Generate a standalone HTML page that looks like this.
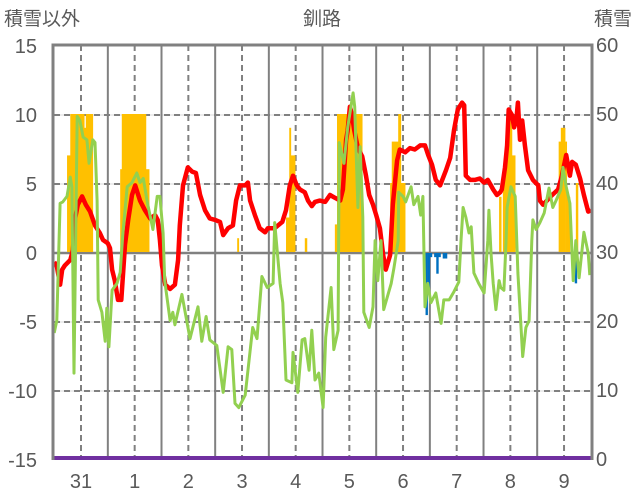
<!DOCTYPE html>
<html><head><meta charset="utf-8"><style>
html,body{margin:0;padding:0;background:#fff;}
svg{display:block;font-family:"Liberation Sans","Noto Sans CJK JP",sans-serif;}
</style></head><body>
<svg id="chart" width="636" height="501" viewBox="0 0 636 501" xmlns="http://www.w3.org/2000/svg">
<text x="322" y="25" text-anchor="middle" font-size="19" fill="#595959">釧路</text>
<text x="4" y="25" font-size="19" fill="#595959">積雪以外</text>
<text x="632" y="25" text-anchor="end" font-size="19" fill="#595959">積雪</text>
<g id="grid"></g>
<g id="bars"></g>
<g id="lines"></g>
<g id="axes"></g>
</svg>
<script>
const dayTicks=[0,1,2,3,4,5,6,7,8,9];
const dayLabels=["31","1","2","3","4","5","6","7","8","9"];
const leftTicks=[15,10,5,0,-5,-10,-15];
const rightTicks=[60,50,40,30,20,10,0];
const redT=[-0.50,-0.45,-0.39,-0.35,-0.30,-0.20,-0.15,-0.11,-0.06,0.02,0.09,0.17,0.26,0.35,0.41,0.50,0.54,0.58,0.63,0.69,0.75,0.82,0.88,0.95,1.01,1.10,1.19,1.29,1.38,1.43,1.47,1.51,1.57,1.66,1.75,1.81,1.84,1.90,1.99,2.07,2.14,2.22,2.31,2.40,2.50,2.59,2.65,2.74,2.83,2.89,2.96,3.06,3.11,3.15,3.24,3.33,3.43,3.48,3.61,3.75,3.82,3.89,3.95,4.02,4.08,4.17,4.23,4.30,4.36,4.45,4.55,4.64,4.73,4.83,4.88,4.94,4.97,5.01,5.05,5.09,5.16,5.24,5.31,5.37,5.44,5.50,5.57,5.63,5.68,5.76,5.81,5.89,5.94,6.04,6.13,6.22,6.32,6.41,6.47,6.54,6.61,6.69,6.80,6.88,6.95,7.02,7.10,7.14,7.17,7.25,7.34,7.43,7.51,7.58,7.68,7.75,7.81,7.84,7.90,7.94,7.97,8.03,8.07,8.11,8.14,8.18,8.22,8.27,8.33,8.42,8.52,8.55,8.61,8.68,8.78,8.89,8.96,9.04,9.11,9.15,9.22,9.30,9.37,9.45,9.50];
const redV=[-0.65,-0.94,-2.3,-1.2,-0.9,-0.5,0.2,2.5,3.5,4.1,3.5,3.0,2.0,1.45,0.95,0.7,0.35,-1.2,-2.0,-3.4,-3.4,0.6,2.4,4.2,4.9,3.8,3.1,2.5,2.75,2.4,0.95,-0.9,-2.3,-2.6,-2.3,-0.5,2.0,4.9,6.2,5.9,5.8,4.2,3.1,2.5,2.4,2.25,1.3,1.8,2.0,3.8,4.9,4.9,5.1,3.8,2.75,1.8,1.5,1.8,1.8,2.25,3.1,4.9,5.6,4.9,4.6,4.4,3.8,3.4,3.7,3.8,3.7,4.2,4.0,3.8,4.6,8.2,8.9,10.6,10.0,8.9,7.6,7.0,5.6,4.2,3.5,2.75,1.8,-0.15,-1.2,-0.15,3.5,6.7,7.5,7.3,7.6,7.5,7.8,7.8,7.1,6.4,5.3,4.9,6.0,6.9,8.9,10.4,10.9,10.7,5.6,5.3,5.3,5.4,5.1,5.3,4.6,4.2,4.4,4.6,6.2,7.8,10.4,10.0,9.1,9.6,10.9,8.2,9.6,7.8,6.0,5.3,4.9,3.8,3.5,3.8,4.2,4.6,5.6,7.1,5.6,6.6,6.4,5.4,4.2,3.0,3.1];
const greenT=[-0.50,-0.45,-0.39,-0.34,-0.26,-0.20,-0.17,-0.13,-0.07,-0.02,0.04,0.11,0.15,0.22,0.26,0.30,0.32,0.39,0.45,0.48,0.52,0.58,0.67,0.73,0.78,0.86,0.95,1.04,1.10,1.16,1.23,1.34,1.42,1.47,1.53,1.56,1.66,1.71,1.75,1.88,2.03,2.18,2.25,2.33,2.40,2.53,2.65,2.74,2.81,2.87,2.94,3.06,3.20,3.28,3.37,3.47,3.58,3.61,3.71,3.76,3.82,3.93,3.95,4.04,4.12,4.17,4.25,4.30,4.36,4.43,4.51,4.56,4.66,4.71,4.79,4.81,4.90,4.97,5.07,5.10,5.16,5.20,5.25,5.27,5.37,5.44,5.48,5.53,5.59,5.64,5.78,5.83,5.91,5.92,6.00,6.05,6.15,6.20,6.28,6.33,6.37,6.41,6.46,6.52,6.61,6.71,6.76,6.86,6.95,7.04,7.08,7.12,7.17,7.23,7.27,7.32,7.41,7.51,7.58,7.60,7.64,7.68,7.73,7.79,7.82,7.88,7.92,7.94,8.01,8.09,8.14,8.23,8.29,8.35,8.40,8.42,8.48,8.55,8.63,8.72,8.79,8.85,8.94,8.98,9.04,9.11,9.17,9.22,9.28,9.37,9.45,9.48];
const greenV=[-5.8,-4.9,3.6,3.7,4.1,5.5,4.8,-8.7,9.9,9.6,8.4,8.2,6.5,8.2,8.0,3.8,-3.4,-4.3,-6.4,-4.0,-6.8,-2.7,-2.2,-1.4,1.45,4.8,5.1,5.8,5.1,5.4,3.8,1.7,4.1,4.1,1.45,-2.0,-4.9,-4.3,-5.2,-3.0,-6.2,-3.9,-6.4,-4.6,-6.3,-6.7,-10.1,-6.8,-7.0,-10.9,-11.2,-10.3,-5.4,-6.2,-1.7,-2.5,-2.2,2.2,-2.2,-3.6,-9.2,-9.4,-7.2,-10.1,-6.3,-6.2,-8.5,-5.6,-9.2,-8.7,-11.2,-6.1,-2.5,-7.0,-5.6,8.0,6.5,9.1,11.6,10.6,3.3,7.7,2.6,-4.3,-5.4,-3.9,0.9,-2.0,0.9,-4.1,-2.2,-1.1,0.9,4.4,4.1,3.7,4.8,3.5,4.1,2.75,4.1,-3.9,-2.2,-3.6,-2.9,-5.1,-3.4,-3.4,-2.8,-2.1,0.9,3.3,2.6,1.45,1.9,-1.45,-2.2,-2.9,0.9,3.1,0,-2.2,-4.1,-2.0,-2.5,-2.7,0.9,3.3,4.8,4.1,-1.45,-7.5,-5.4,-4.9,0.9,2.4,1.7,2.2,2.9,4.7,3.3,3.8,4.6,6.2,4.8,3.6,-2.0,0.9,-1.8,1.5,0,-1.6];
const snowStart=[-0.26,-0.20,0.06,0.09,0.73,0.76,1.21,2.91,3.82,3.88,3.91,4.17,4.73,4.77,5.76,5.79,5.83,5.91,5.96,7.79,7.86,7.90,7.96,8.03,8.90,8.94,9.02,9.05,9.22];
const snowEnd=[-0.20,0.06,0.09,0.22,0.76,1.21,1.27,2.94,3.88,3.91,3.99,4.21,4.77,5.24,5.79,5.83,5.91,5.96,6.04,7.83,7.90,7.96,8.03,8.09,8.94,9.02,9.05,9.11,9.26];
const snowDepth=[44,50,48,50,42,50,42,32,35,48,44,32,34,50,40,46,46,50,40,38,42,45,50,44,46,48,46,38,40];
const blueT=[6.44,6.48,6.52,6.60,6.64,6.68,6.76,6.80,9.22];
const blueV=[-4.5,-2.5,-0.3,-0.3,-1.5,-0.3,-0.4,-0.4,-2.2];

const X0=54,X1=591,YT=45,YB=459;
const dayPx=53.67;
function xs(d){return 81+d*dayPx;}
function yl(v){return 253-v*13.8;}
function yr(v){return 459-v*6.9;}
const NS="http://www.w3.org/2000/svg";
function mk(tag,attrs,parent){const e=document.createElementNS(NS,tag);for(const k in attrs)e.setAttribute(k,attrs[k]);parent.appendChild(e);return e;}
const grid=document.getElementById('grid'),bars=document.getElementById('bars'),lines=document.getElementById('lines'),axes=document.getElementById('axes');

[10,5,-5,-10].forEach(v=>{
  const l1=mk('line',{x1:X0,x2:X1,y1:yl(v),y2:yl(v),stroke:'#d9d9d9','stroke-width':1},grid);
  
  
  const l=mk('line',{x1:X0,x2:X1,y1:yl(v),y2:yl(v),stroke:'#808080','stroke-width':2,'stroke-dasharray':'6,4'},grid);
  
  
});
dayTicks.forEach(d=>{
  const l=mk('line',{x1:xs(d),x2:xs(d),y1:YT,y2:YB,stroke:'#808080','stroke-width':2,'stroke-dasharray':'6,4'},grid);
  
  
  if(d<9){
    const s=mk('line',{x1:xs(d+0.5),x2:xs(d+0.5),y1:YT,y2:YB,stroke:'#808080','stroke-width':2},grid);
    
    
  }
});
snowStart.forEach((s,i)=>{
  const x=xs(s),w=xs(snowEnd[i])-x,y=yr(snowDepth[i]);
  const r=mk('rect',{x:x,y:y,width:w+0.3,height:yr(30)-y,fill:'#ffc000'},bars);
  
  
});
blueT.forEach((t,i)=>{
  const x=xs(t)-1.1;
  const r=mk('rect',{x:x,y:yl(0),width:2.4,height:yl(blueV[i])-yl(0),fill:'#0070c0'},bars);
  
  
});
const z=mk('line',{x1:X0,x2:X1,y1:yl(0),y2:yl(0),stroke:'#808080','stroke-width':2.5},grid);


function pts(T,V){return T.map((t,i)=>xs(t).toFixed(1)+','+yl(V[i]).toFixed(1)).join(' ');}
const red=mk('polyline',{points:pts(redT,redV),fill:'none',stroke:'#ff0000','stroke-width':4.5,'stroke-linejoin':'round'},lines);


const green=mk('polyline',{points:pts(greenT,greenV),fill:'none',stroke:'#92d050','stroke-width':3,'stroke-linejoin':'round'},lines);


const p=mk('line',{x1:X0,x2:X1,y1:YB-1,y2:YB-1,stroke:'#7030a0','stroke-width':4},axes);


const b=mk('path',{d:`M${X0-1},${YB+1} V${YT} H${X1+1} V${YB+1}`,fill:'none',stroke:'#808080','stroke-width':3},axes);


leftTicks.forEach(v=>{
  const t=mk('text',{x:37,y:yl(v)+7,'text-anchor':'end','font-size':20,fill:'#595959'},axes);
  t.textContent=v;
  
  
});
rightTicks.forEach(v=>{
  const t=mk('text',{x:596,y:yr(v)+7,'font-size':20,fill:'#595959'},axes);
  t.textContent=v;
  
  
});
dayTicks.forEach((d,i)=>{
  const t=mk('text',{x:xs(d),y:488,'text-anchor':'middle','font-size':20,fill:'#595959'},axes);
  t.textContent=dayLabels[i];
  
  
});
</script>
</body></html>
